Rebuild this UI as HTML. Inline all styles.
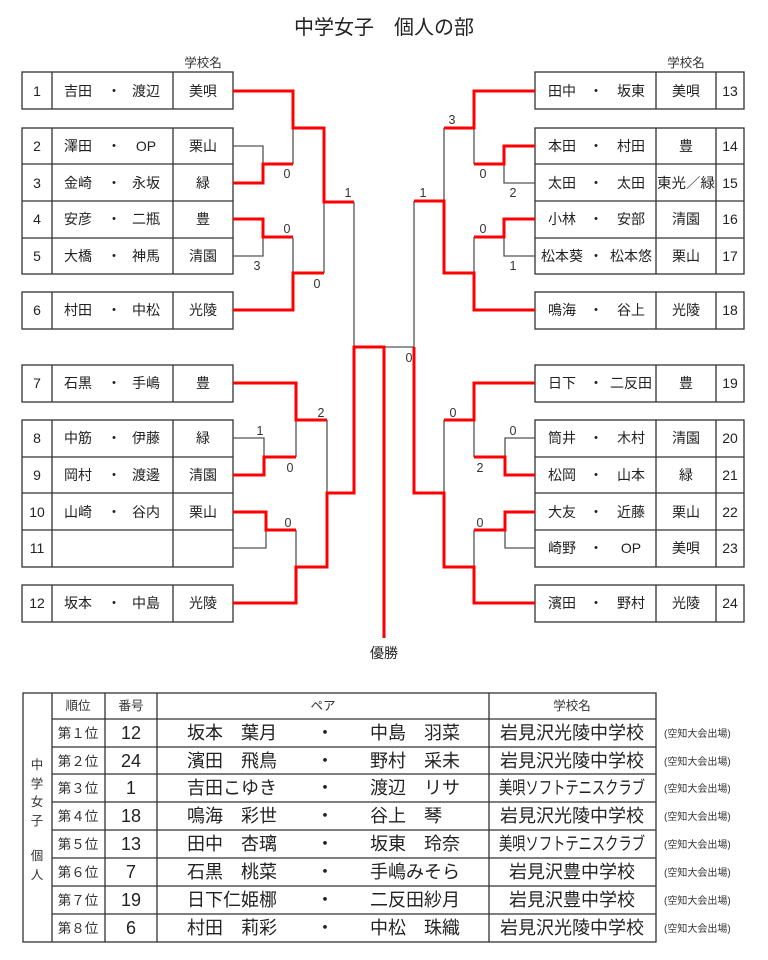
<!DOCTYPE html>
<html><head><meta charset="utf-8">
<style>
html,body{margin:0;padding:0;background:#fff;}
svg{display:block;font-family:"Liberation Sans","Noto Sans CJK JP",sans-serif;}
.b{fill:none;stroke:#333;stroke-width:1.3}
.g{fill:none;stroke:#555;stroke-width:1.3}
.r{fill:none;stroke:#f00;stroke-width:3}
.t{font-size:14px;fill:#222;text-anchor:middle}
.s{font-size:12.5px;fill:#333;text-anchor:middle}
.n{font-size:18px;fill:#222;text-anchor:middle}
.k{font-size:13.5px;fill:#333;text-anchor:middle}
.q{font-size:10px;fill:#333}
</style></head><body>
<svg width="768" height="960" viewBox="0 0 768 960" xmlns="http://www.w3.org/2000/svg">
<text x="384" y="34" font-size="20" fill="#222" text-anchor="middle">中学女子　個人の部</text>
<text x="203" y="67" class="s">学校名</text>
<text x="686" y="67" class="s">学校名</text>

<g class="b">
<rect x="22" y="72" width="211" height="37"/><line x1="52" y1="72" x2="52" y2="109"/><line x1="173" y1="72" x2="173" y2="109"/>
<rect x="22" y="128" width="211" height="146"/><line x1="52" y1="128" x2="52" y2="274"/><line x1="173" y1="128" x2="173" y2="274"/>
<line x1="22" y1="164" x2="233" y2="164"/><line x1="22" y1="201" x2="233" y2="201"/><line x1="22" y1="238" x2="233" y2="238"/>
<rect x="22" y="292" width="211" height="37"/><line x1="52" y1="292" x2="52" y2="329"/><line x1="173" y1="292" x2="173" y2="329"/>
<rect x="22" y="365" width="211" height="37"/><line x1="52" y1="365" x2="52" y2="402"/><line x1="173" y1="365" x2="173" y2="402"/>
<rect x="22" y="420" width="211" height="147"/><line x1="52" y1="420" x2="52" y2="567"/><line x1="173" y1="420" x2="173" y2="567"/>
<line x1="22" y1="457" x2="233" y2="457"/><line x1="22" y1="493" x2="233" y2="493"/><line x1="22" y1="530" x2="233" y2="530"/>
<rect x="22" y="585" width="211" height="37"/><line x1="52" y1="585" x2="52" y2="622"/><line x1="173" y1="585" x2="173" y2="622"/>
</g>
<g class="b">
<rect x="535" y="72" width="209" height="37"/><line x1="656" y1="72" x2="656" y2="109"/><line x1="716" y1="72" x2="716" y2="109"/>
<rect x="535" y="128" width="209" height="146"/><line x1="656" y1="128" x2="656" y2="274"/><line x1="716" y1="128" x2="716" y2="274"/>
<line x1="535" y1="164" x2="744" y2="164"/><line x1="535" y1="201" x2="744" y2="201"/><line x1="535" y1="238" x2="744" y2="238"/>
<rect x="535" y="292" width="209" height="37"/><line x1="656" y1="292" x2="656" y2="329"/><line x1="716" y1="292" x2="716" y2="329"/>
<rect x="535" y="365" width="209" height="37"/><line x1="656" y1="365" x2="656" y2="402"/><line x1="716" y1="365" x2="716" y2="402"/>
<rect x="535" y="420" width="209" height="147"/><line x1="656" y1="420" x2="656" y2="567"/><line x1="716" y1="420" x2="716" y2="567"/>
<line x1="535" y1="457" x2="744" y2="457"/><line x1="535" y1="493" x2="744" y2="493"/><line x1="535" y1="530" x2="744" y2="530"/>
<rect x="535" y="585" width="209" height="37"/><line x1="656" y1="585" x2="656" y2="622"/><line x1="716" y1="585" x2="716" y2="622"/>
</g>

<g class="t">
<text x="37" y="96">1</text><text x="78" y="96">吉田</text><text x="114" y="96">・</text><text x="146" y="96">渡辺</text><text x="203" y="96">美唄</text>
<text x="37" y="151">2</text><text x="78" y="151">澤田</text><text x="114" y="151">・</text><text x="146" y="151">OP</text><text x="203" y="151">栗山</text>
<text x="37" y="188">3</text><text x="78" y="188">金崎</text><text x="114" y="188">・</text><text x="146" y="188">永坂</text><text x="203" y="188">緑</text>
<text x="37" y="224">4</text><text x="78" y="224">安彦</text><text x="114" y="224">・</text><text x="146" y="224">二瓶</text><text x="203" y="224">豊</text>
<text x="37" y="261">5</text><text x="78" y="261">大橋</text><text x="114" y="261">・</text><text x="146" y="261">神馬</text><text x="203" y="261">清園</text>
<text x="37" y="315">6</text><text x="78" y="315">村田</text><text x="114" y="315">・</text><text x="146" y="315">中松</text><text x="203" y="315">光陵</text>
<text x="37" y="388">7</text><text x="78" y="388">石黒</text><text x="114" y="388">・</text><text x="146" y="388">手嶋</text><text x="203" y="388">豊</text>
<text x="37" y="443">8</text><text x="78" y="443">中筋</text><text x="114" y="443">・</text><text x="146" y="443">伊藤</text><text x="203" y="443">緑</text>
<text x="37" y="480">9</text><text x="78" y="480">岡村</text><text x="114" y="480">・</text><text x="146" y="480">渡邊</text><text x="203" y="480">清園</text>
<text x="37" y="517">10</text><text x="78" y="517">山崎</text><text x="114" y="517">・</text><text x="146" y="517">谷内</text><text x="203" y="517">栗山</text>
<text x="37" y="553">11</text>
<text x="37" y="608">12</text><text x="78" y="608">坂本</text><text x="114" y="608">・</text><text x="146" y="608">中島</text><text x="203" y="608">光陵</text>
</g>
<g class="t">
<text x="562" y="96">田中</text><text x="596" y="96">・</text><text x="631" y="96">坂東</text><text x="686" y="96">美唄</text><text x="730" y="96">13</text>
<text x="562" y="151">本田</text><text x="596" y="151">・</text><text x="631" y="151">村田</text><text x="686" y="151">豊</text><text x="730" y="151">14</text>
<text x="562" y="188">太田</text><text x="596" y="188">・</text><text x="631" y="188">太田</text><text x="686" y="188" textLength="58" lengthAdjust="spacingAndGlyphs">東光／緑</text><text x="730" y="188">15</text>
<text x="562" y="224">小林</text><text x="596" y="224">・</text><text x="631" y="224">安部</text><text x="686" y="224">清園</text><text x="730" y="224">16</text>
<text x="562" y="261">松本葵</text><text x="596" y="261">・</text><text x="631" y="261">松本悠</text><text x="686" y="261">栗山</text><text x="730" y="261">17</text>
<text x="562" y="315">鳴海</text><text x="596" y="315">・</text><text x="631" y="315">谷上</text><text x="686" y="315">光陵</text><text x="730" y="315">18</text>
<text x="562" y="388">日下</text><text x="596" y="388">・</text><text x="631" y="388">二反田</text><text x="686" y="388">豊</text><text x="730" y="388">19</text>
<text x="562" y="443">筒井</text><text x="596" y="443">・</text><text x="631" y="443">木村</text><text x="686" y="443">清園</text><text x="730" y="443">20</text>
<text x="562" y="480">松岡</text><text x="596" y="480">・</text><text x="631" y="480">山本</text><text x="686" y="480">緑</text><text x="730" y="480">21</text>
<text x="562" y="517">大友</text><text x="596" y="517">・</text><text x="631" y="517">近藤</text><text x="686" y="517">栗山</text><text x="730" y="517">22</text>
<text x="562" y="553">崎野</text><text x="596" y="553">・</text><text x="631" y="553">OP</text><text x="686" y="553">美唄</text><text x="730" y="553">23</text>
<text x="562" y="608">濱田</text><text x="596" y="608">・</text><text x="631" y="608">野村</text><text x="686" y="608">光陵</text><text x="730" y="608">24</text>
</g>

<g class="g">
<polyline points="233,146 263,146 263,183"/>
<line x1="293" y1="128" x2="293" y2="164"/>
<polyline points="233,256 263,256 263,238"/>
<line x1="293" y1="238" x2="293" y2="273"/>
<line x1="324" y1="202" x2="324" y2="273"/>
<polyline points="233,438 264,438 264,475"/>
<line x1="296" y1="420" x2="296" y2="457"/>
<polyline points="233,548 266,548 266,530"/>
<line x1="296" y1="530" x2="296" y2="567"/>
<line x1="327" y1="420" x2="327" y2="493"/>
<line x1="354" y1="202" x2="354" y2="347"/>
<line x1="414" y1="201" x2="414" y2="347"/>
<line x1="384" y1="347" x2="414" y2="347"/>
<line x1="474" y1="128" x2="474" y2="164"/>
<polyline points="535,183 504,183 504,164"/>
<line x1="444" y1="128" x2="444" y2="201"/>
<polyline points="535,256 504,256 504,237"/>
<line x1="474" y1="237" x2="474" y2="273"/>
<polyline points="535,438 505,438 505,475"/>
<line x1="474" y1="420" x2="474" y2="457"/>
<polyline points="535,548 505,548 505,530"/>
<line x1="474" y1="530" x2="474" y2="567"/>
<line x1="444" y1="420" x2="444" y2="493"/>
</g>
<g class="r">
<polyline points="233,91 293,91 293,128 324,128 324,202 354,202"/>
<polyline points="233,183 263,183 263,164 293,164"/>
<polyline points="233,219 263,219 263,237 293,237"/>
<polyline points="233,310 293,310 293,273 324,273"/>
<polyline points="233,383 296,383 296,420 327,420"/>
<polyline points="233,475 264,475 264,457 296,457"/>
<polyline points="233,512 266,512 266,530 296,530"/>
<polyline points="233,603 296,603 296,567 327,567 327,493 354,493 354,347 384,347 384,638"/>
<polyline points="535,91 474,91 474,128 444,128"/>
<polyline points="535,146 504,146 504,164 474,164"/>
<polyline points="535,219 504,219 504,237 474,237"/>
<polyline points="535,310 474,310 474,273 444,273 444,201 414,201"/>
<polyline points="535,383 474,383 474,420 444,420"/>
<polyline points="535,475 505,475 505,457 474,457"/>
<polyline points="535,512 505,512 505,530 474,530"/>
<polyline points="535,603 474,603 474,567 444,567 444,493 414,493 414,347"/>
</g>
<g class="s">
<text x="287" y="178">0</text><text x="287" y="233">0</text><text x="257" y="270">3</text><text x="317" y="288">0</text><text x="348" y="197">1</text>
<text x="452" y="124">3</text><text x="483" y="178">0</text><text x="513" y="197">2</text><text x="423" y="197">1</text>
<text x="483" y="233">0</text><text x="513" y="270">1</text>
<text x="260" y="435">1</text><text x="290" y="472">0</text><text x="321" y="417">2</text><text x="288" y="527">0</text>
<text x="453" y="417">0</text><text x="513" y="435">0</text><text x="480" y="472">2</text><text x="480" y="527">0</text>
<text x="409" y="362">0</text>
</g>
<text x="384" y="658" font-size="14" fill="#222" text-anchor="middle">優勝</text>

<g class="b">
<rect x="23" y="693" width="633" height="249"/>
<line x1="52" y1="693" x2="52" y2="942"/>
<line x1="105" y1="693" x2="105" y2="942"/>
<line x1="157" y1="693" x2="157" y2="942"/>
<line x1="489" y1="693" x2="489" y2="942"/>
<line x1="52" y1="719" x2="656" y2="719"/>
<line x1="52" y1="747" x2="656" y2="747"/>
<line x1="52" y1="774" x2="656" y2="774"/>
<line x1="52" y1="802" x2="656" y2="802"/>
<line x1="52" y1="830" x2="656" y2="830"/>
<line x1="52" y1="858" x2="656" y2="858"/>
<line x1="52" y1="886" x2="656" y2="886"/>
<line x1="52" y1="914" x2="656" y2="914"/>
</g>
<g class="s">
<text x="78" y="710">順位</text><text x="131" y="710">番号</text><text x="323" y="710">ペア</text><text x="572" y="710">学校名</text>
<text x="37" y="769">中</text><text x="37" y="788">学</text><text x="37" y="806">女</text><text x="37" y="825">子</text><text x="37" y="860">個</text><text x="37" y="879">人</text>
</g>
<g class="k">
<text x="78" y="738">第１位</text><text x="78" y="766">第２位</text><text x="78" y="793">第３位</text><text x="78" y="821">第４位</text>
<text x="78" y="849">第５位</text><text x="78" y="877">第６位</text><text x="78" y="905">第７位</text><text x="78" y="933">第８位</text>
</g>
<g class="n">
<text x="131" y="739">12</text><text x="131" y="767">24</text><text x="131" y="794">1</text><text x="131" y="822">18</text>
<text x="131" y="850">13</text><text x="131" y="878">7</text><text x="131" y="906">19</text><text x="131" y="934">6</text>
<text x="232" y="739">坂本　葉月</text><text x="325" y="739">・</text><text x="415" y="739">中島　羽菜</text><text x="572" y="739">岩見沢光陵中学校</text>
<text x="232" y="767">濱田　飛鳥</text><text x="325" y="767">・</text><text x="415" y="767">野村　采未</text><text x="572" y="767">岩見沢光陵中学校</text>
<text x="232" y="794">吉田こゆき</text><text x="325" y="794">・</text><text x="415" y="794">渡辺　リサ</text><text x="572" y="794" textLength="146" lengthAdjust="spacingAndGlyphs">美唄ソフトテニスクラブ</text>
<text x="232" y="822">鳴海　彩世</text><text x="325" y="822">・</text><text x="406" y="822">谷上　琴</text><text x="572" y="822">岩見沢光陵中学校</text>
<text x="232" y="850">田中　杏璃</text><text x="325" y="850">・</text><text x="415" y="850">坂東　玲奈</text><text x="572" y="850" textLength="146" lengthAdjust="spacingAndGlyphs">美唄ソフトテニスクラブ</text>
<text x="232" y="878">石黒　桃菜</text><text x="325" y="878">・</text><text x="415" y="878">手嶋みそら</text><text x="572" y="878">岩見沢豊中学校</text>
<text x="232" y="906">日下仁姫梛</text><text x="325" y="906">・</text><text x="415" y="906">二反田紗月</text><text x="572" y="906">岩見沢豊中学校</text>
<text x="232" y="934">村田　莉彩</text><text x="325" y="934">・</text><text x="415" y="934">中松　珠織</text><text x="572" y="934">岩見沢光陵中学校</text>
</g>
<g class="q">
<text x="664" y="737">(空知大会出場)</text><text x="664" y="765">(空知大会出場)</text><text x="664" y="792">(空知大会出場)</text><text x="664" y="820">(空知大会出場)</text>
<text x="664" y="848">(空知大会出場)</text><text x="664" y="876">(空知大会出場)</text><text x="664" y="904">(空知大会出場)</text><text x="664" y="932">(空知大会出場)</text>
</g>
</svg>
</body></html>
